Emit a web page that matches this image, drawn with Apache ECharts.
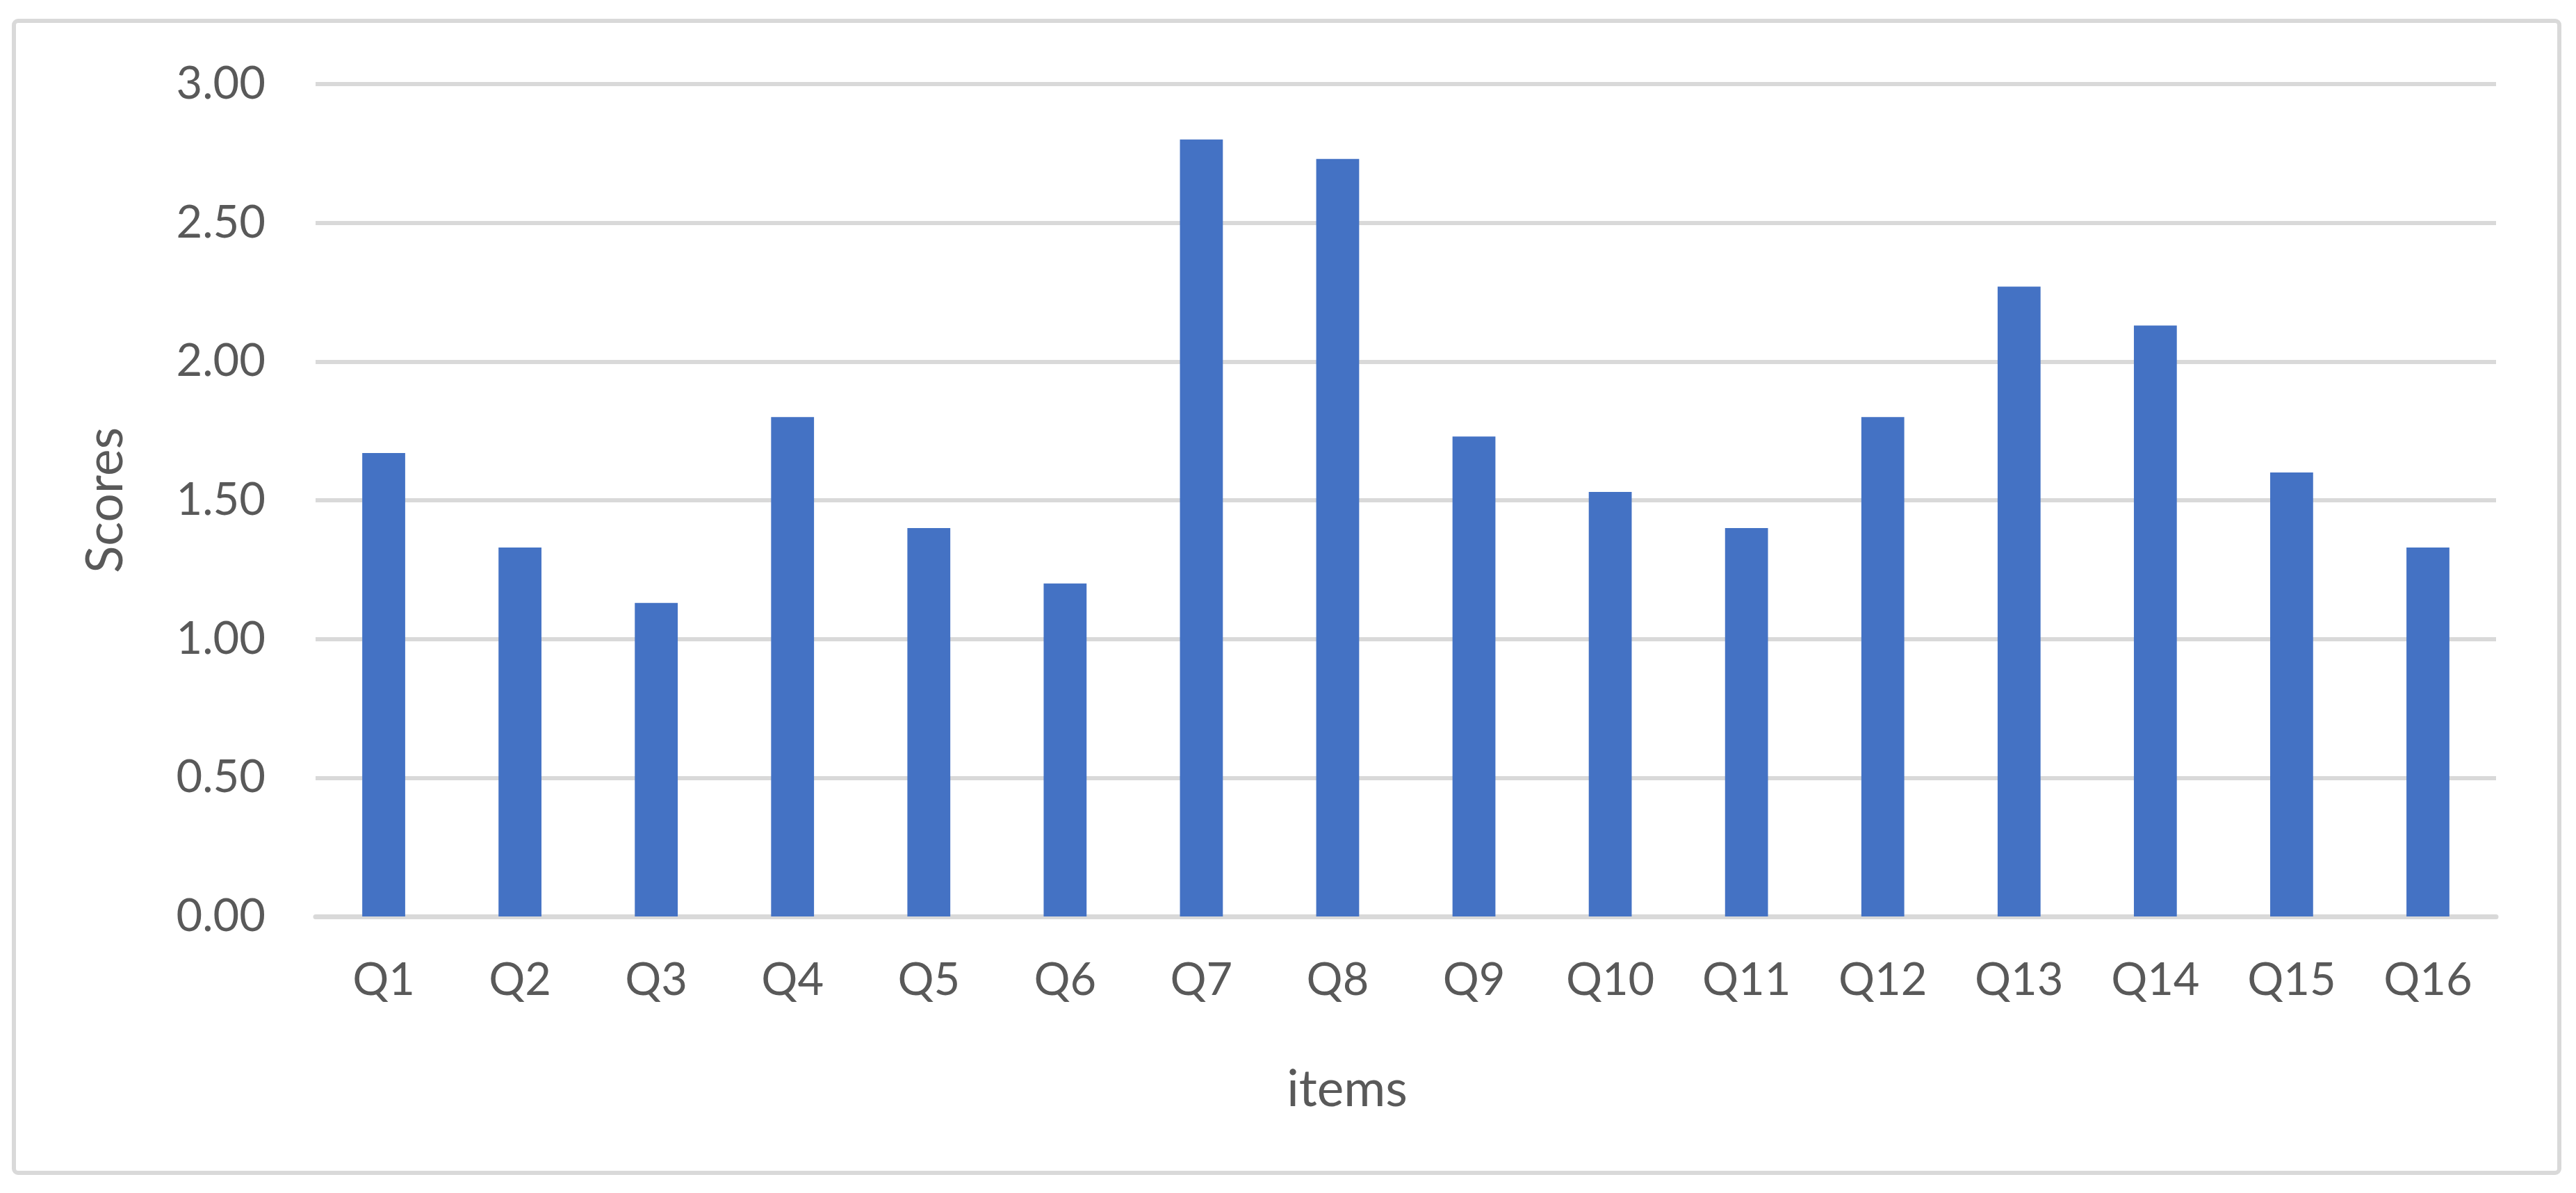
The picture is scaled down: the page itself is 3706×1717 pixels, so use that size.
<!DOCTYPE html>
<html>
<head>
<meta charset="utf-8">
<title>Scores by item</title>
<script src="https://cdn.jsdelivr.net/npm/echarts@6/dist/echarts.min.js"></script>
<style>
  html, body { margin: 0; padding: 0; background: #ffffff; }
  #chart { width: 3706px; height: 1717px; }
</style>
</head>
<body>
<div id="chart"></div>
<script>
var items = ['Q1', 'Q2', 'Q3', 'Q4', 'Q5', 'Q6', 'Q7', 'Q8',
  'Q9', 'Q10', 'Q11', 'Q12', 'Q13', 'Q14', 'Q15', 'Q16'];
var scores = [1.67, 1.33, 1.13, 1.80, 1.40, 1.20, 2.80, 2.73,
  1.73, 1.53, 1.40, 1.80, 2.27, 2.13, 1.60, 1.33];
var xTitle = 'items';
var yTitle = 'Scores';

var textColor = '#595959';
var lineColor = '#d9d9d9';
var font = 'Lato';

var chart = echarts.init(document.getElementById('chart'));

var option = {
  backgroundColor: '#ffffff',
  animation: false,
  grid: {
    left: 454,
    right: 115,
    top: 121,
    bottom: 398
  },
  xAxis: {
    type: 'category',
    data: items,
    axisTick: { show: false },
    axisLine: {
      lineStyle: { color: lineColor, width: 7 }
    },
    axisLabel: {
      color: textColor,
      fontFamily: font,
      fontSize: 65,
      margin: 60
    }
  },
  yAxis: {
    type: 'value',
    min: 0,
    max: 3,
    interval: 0.5,
    name: yTitle,
    nameLocation: 'middle',
    nameGap: 265,
    nameRotate: 90,
    nameTextStyle: {
      color: textColor,
      fontFamily: font,
      fontSize: 73
    },
    axisLine: { show: false },
    axisTick: { show: false },
    splitLine: {
      lineStyle: { color: lineColor, width: 6 }
    },
    axisLabel: {
      color: textColor,
      fontFamily: font,
      fontSize: 65,
      margin: 72,
      formatter: function(v) {
        return v.toFixed(2);
      }
    }
  },
  graphic: [
    {
      // chart frame
      type: 'rect',
      shape: { x: 20, y: 30, width: 3662, height: 1658, r: 6 },
      style: { fill: 'none', stroke: lineColor, lineWidth: 6 },
      silent: true
    },
    {
      type: 'text',
      x: 1938,
      y: 1568,
      style: {
        text: xTitle,
        fill: textColor,
        font: '73px ' + font,
        textAlign: 'center',
        textVerticalAlign: 'middle'
      }
    }
  ],
  series: [{
    type: 'bar',
    data: scores,
    barCategoryGap: '68.5%',
    itemStyle: { color: '#4472c4' }
  }]
};
chart.setOption(option);
</script>
</body>
</html>
